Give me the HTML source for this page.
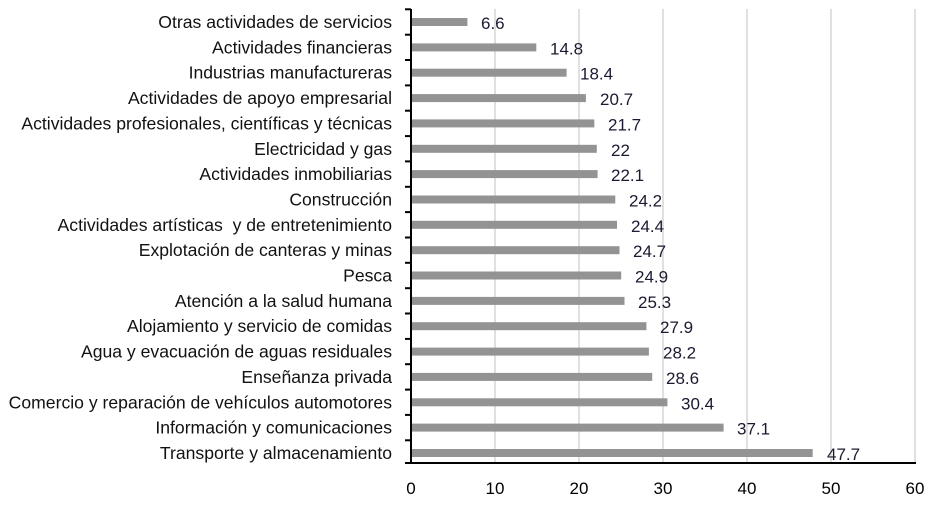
<!DOCTYPE html><html><head><style>body{margin:0;background:#fff}</style></head><body>
<svg width="938" height="501" xmlns="http://www.w3.org/2000/svg" font-family="Liberation Sans, sans-serif">
<g stroke="#c0c0c0" stroke-width="1">
<line x1="495" y1="9" x2="495" y2="463"/><line x1="579" y1="9" x2="579" y2="463"/><line x1="663" y1="9" x2="663" y2="463"/><line x1="747" y1="9" x2="747" y2="463"/><line x1="831" y1="9" x2="831" y2="463"/><line x1="915" y1="9" x2="915" y2="463"/>
</g>
<g fill="#939393">
<rect x="412" y="18" width="55.4" height="8"/>
<rect x="412" y="43.4" width="124.3" height="8"/>
<rect x="412" y="68.7" width="154.6" height="8"/>
<rect x="412" y="94.1" width="173.9" height="8"/>
<rect x="412" y="119.4" width="182.3" height="8"/>
<rect x="412" y="144.8" width="184.8" height="8"/>
<rect x="412" y="170.1" width="185.6" height="8"/>
<rect x="412" y="195.5" width="203.3" height="8"/>
<rect x="412" y="220.8" width="205.0" height="8"/>
<rect x="412" y="246.2" width="207.5" height="8"/>
<rect x="412" y="271.5" width="209.2" height="8"/>
<rect x="412" y="296.9" width="212.5" height="8"/>
<rect x="412" y="322.2" width="234.4" height="8"/>
<rect x="412" y="347.6" width="236.9" height="8"/>
<rect x="412" y="372.9" width="240.2" height="8"/>
<rect x="412" y="398.3" width="255.4" height="8"/>
<rect x="412" y="423.6" width="311.6" height="8"/>
<rect x="412" y="449" width="400.7" height="8"/>
</g>
<g font-size="17.6" text-anchor="end" fill="#111">
<text x="392" y="28">Otras actividades de servicios</text>
<text x="392" y="53.4">Actividades financieras</text>
<text x="392" y="78.7">Industrias manufactureras</text>
<text x="392" y="104.1">Actividades de apoyo empresarial</text>
<text x="392" y="129.4">Actividades profesionales, científicas y técnicas</text>
<text x="392" y="154.8">Electricidad y gas</text>
<text x="392" y="180.1">Actividades inmobiliarias</text>
<text x="392" y="205.5">Construcción</text>
<text x="392" y="230.8" xml:space="preserve">Actividades artísticas  y de entretenimiento</text>
<text x="392" y="256.2">Explotación de canteras y minas</text>
<text x="392" y="281.5">Pesca</text>
<text x="392" y="306.9">Atención a la salud humana</text>
<text x="392" y="332.2">Alojamiento y servicio de comidas</text>
<text x="392" y="357.6">Agua y evacuación de aguas residuales</text>
<text x="392" y="382.9">Enseñanza privada</text>
<text x="392" y="408.3">Comercio y reparación de vehículos automotores</text>
<text x="392" y="433.6">Información y comunicaciones</text>
<text x="392" y="459">Transporte y almacenamiento</text>
</g>
<g font-size="17" fill="#1a1a30">
<text x="481" y="29">6.6</text>
<text x="550" y="54.4">14.8</text>
<text x="580" y="79.7">18.4</text>
<text x="600" y="105.1">20.7</text>
<text x="608" y="130.4">21.7</text>
<text x="611" y="155.8">22</text>
<text x="611" y="181.1">22.1</text>
<text x="629" y="206.5">24.2</text>
<text x="631" y="231.8">24.4</text>
<text x="633" y="257.2">24.7</text>
<text x="635" y="282.5">24.9</text>
<text x="638" y="307.9">25.3</text>
<text x="660" y="333.2">27.9</text>
<text x="663" y="358.6">28.2</text>
<text x="666" y="383.9">28.6</text>
<text x="681" y="409.3">30.4</text>
<text x="737" y="434.6">37.1</text>
<text x="827" y="460">47.7</text>
</g>
<g stroke="#000" stroke-width="2">
<line x1="405" y1="9.3" x2="411" y2="9.3"/><line x1="405" y1="34.7" x2="411" y2="34.7"/><line x1="405" y1="60" x2="411" y2="60"/><line x1="405" y1="85.4" x2="411" y2="85.4"/><line x1="405" y1="110.7" x2="411" y2="110.7"/><line x1="405" y1="136.1" x2="411" y2="136.1"/><line x1="405" y1="161.4" x2="411" y2="161.4"/><line x1="405" y1="186.8" x2="411" y2="186.8"/><line x1="405" y1="212.1" x2="411" y2="212.1"/><line x1="405" y1="237.5" x2="411" y2="237.5"/><line x1="405" y1="262.8" x2="411" y2="262.8"/><line x1="405" y1="288.2" x2="411" y2="288.2"/><line x1="405" y1="313.5" x2="411" y2="313.5"/><line x1="405" y1="338.9" x2="411" y2="338.9"/><line x1="405" y1="364.2" x2="411" y2="364.2"/><line x1="405" y1="389.6" x2="411" y2="389.6"/><line x1="405" y1="414.9" x2="411" y2="414.9"/><line x1="405" y1="440.3" x2="411" y2="440.3"/>
</g>
<line x1="411" y1="9" x2="411" y2="464" stroke="#000" stroke-width="2"/>
<line x1="405" y1="463" x2="916" y2="463" stroke="#000" stroke-width="2"/>
<g font-size="17" fill="#000" text-anchor="middle">
<text x="411" y="494">0</text><text x="495" y="494">10</text><text x="579" y="494">20</text><text x="663" y="494">30</text><text x="747" y="494">40</text><text x="831" y="494">50</text><text x="915" y="494">60</text>
</g>
</svg></body></html>
